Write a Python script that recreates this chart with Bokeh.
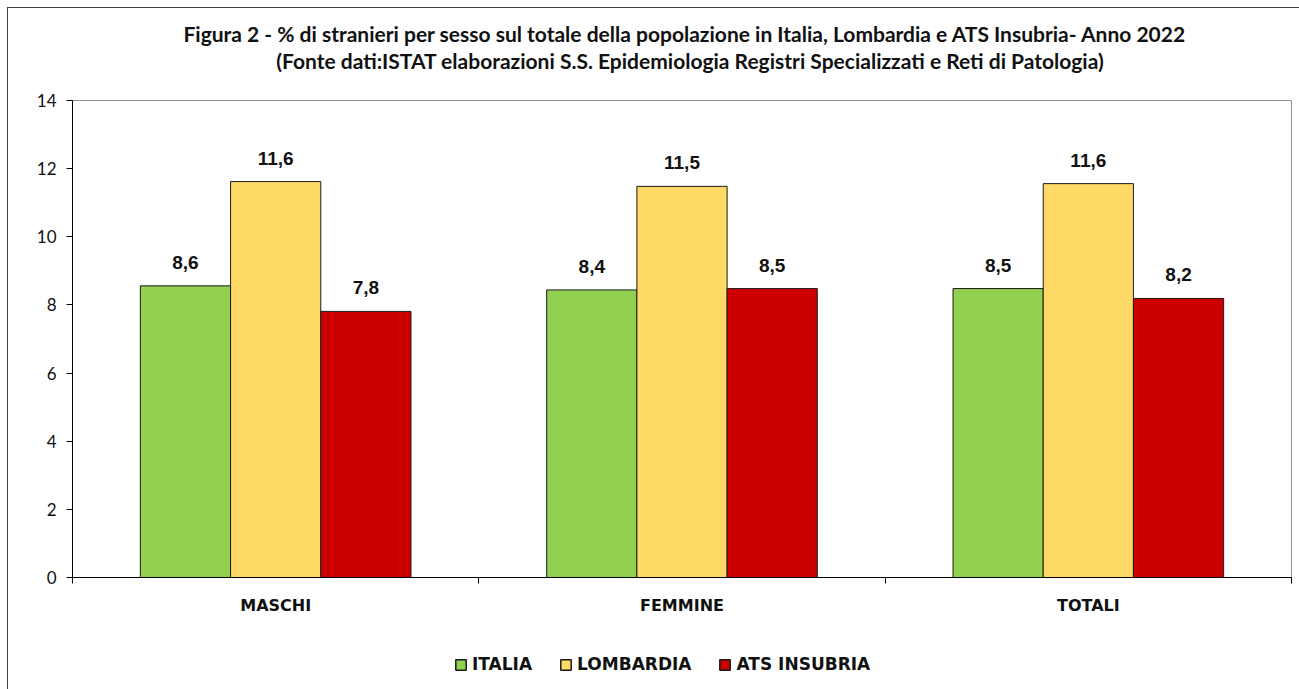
from bokeh.plotting import figure
from bokeh.layouts import column
from bokeh.models import (Range1d, FixedTicker, ColumnDataSource, Legend, LegendItem)
from bokeh.core.properties import value
from bokeh.embed import file_html
from bokeh.resources import INLINE

title_lines = ["Figura 2 - % di stranieri per sesso sul totale della popolazione in Italia, Lombardia  e  ATS  Insubria- Anno 2022",
               "(Fonte dati:ISTAT elaborazioni  S.S. Epidemiologia Registri Specializzati e Reti di Patologia)"]
categories = ["MASCHI", "FEMMINE", "TOTALI"]
series_names = ["ITALIA", "LOMBARDIA", "ATS INSUBRIA"]
italia = [8.56, 8.44, 8.48]
lombardia = [11.62, 11.48, 11.56]
ats_insubria = [7.81, 8.48, 8.19]
y_ticks = [0, 2, 4, 6, 8, 10, 12, 14]

colors = ["#92D050", "#FFD966", "#CC0000"]
offsets = [-0.222, 0.0, 0.222]
bar_w = 0.222
W = 1291
series = [italia, lombardia, ats_insubria]

# ---- title figure (frame = whole canvas, pixel ranges)
tf = figure(width=W, height=80, output_backend="svg", toolbar_location=None,
            x_range=Range1d(0, W), y_range=Range1d(0, 80),
            min_border=0, outline_line_color=None)
tf.axis.visible = False
tf.grid.visible = False
tsrc = ColumnDataSource(dict(x=[657, 657], y=[55, 28], t=title_lines))
tf.text(x="x", y="y", text="t", source=tsrc, text_align="center", text_baseline="middle",
        text_font=value("Lato"), text_font_style="bold", text_font_size="21px",
        text_color="#111111")

# ---- main chart
p = figure(width=W, height=552, output_backend="svg", toolbar_location=None,
           x_range=Range1d(0, 3), y_range=Range1d(0, 14),
           min_border_left=64, min_border_right=8, min_border_top=12, min_border_bottom=63)
p.xgrid.visible = False
p.ygrid.visible = False
p.outline_line_color = "#909090"
p.outline_line_width = 1

for vals, col, off in zip(series, colors, offsets):
    xs = [i + 0.5 + off for i in range(len(categories))]
    labels = [f"{v:.1f}".replace(".", ",") for v in vals]
    src = ColumnDataSource(dict(x=xs, top=vals, lab=labels))
    p.vbar(x="x", top="top", width=bar_w, bottom=0, source=src,
           fill_color=col, line_color="#1a1a1a", line_width=1)
    p.text(x="x", y="top", text="lab", source=src, text_align="center", text_baseline="bottom",
           y_offset=-17, text_font=value("Liberation Sans"), text_font_style="bold",
           text_font_size="19px", text_color="#111111")

p.xaxis.ticker = FixedTicker(ticks=[0.5, 1.5, 2.5], minor_ticks=[0, 1, 2, 3])
p.xaxis.major_label_overrides = {0.5: categories[0], 1.5: categories[1], 2.5: categories[2]}
p.xaxis.major_tick_line_color = None
p.xaxis.minor_tick_line_color = "black"
p.xaxis.minor_tick_out = 6
p.xaxis.minor_tick_in = 0
p.xaxis.axis_line_color = "black"
p.xaxis.major_label_standoff = 12
p.xaxis.major_label_text_font = "DejaVu Sans"
p.xaxis.major_label_text_font_style = "bold"
p.xaxis.major_label_text_font_size = "16px"
p.xaxis.major_label_text_color = "#111111"

p.yaxis.ticker = FixedTicker(ticks=y_ticks, minor_ticks=[])
p.yaxis.axis_line_color = "black"
p.yaxis.major_tick_line_color = "black"
p.yaxis.major_tick_out = 6
p.yaxis.major_tick_in = 0
p.yaxis.minor_tick_line_color = None
p.yaxis.major_label_standoff = 10
p.yaxis.major_label_text_font = "Lato"
p.yaxis.major_label_text_font_size = "17px"
p.yaxis.major_label_text_color = "#111111"

# ---- legend figure (hidden copies of the series supply the legend swatches)
lf = figure(width=W, height=49, output_backend="svg", toolbar_location=None,
            x_range=Range1d(0, 3), y_range=Range1d(0, 14), min_border=0, outline_line_color=None)
lf.axis.visible = False
lf.grid.visible = False
items = []
for name, vals, col, off in zip(series_names, series, colors, offsets):
    xs = [i + 0.5 + off for i in range(len(categories))]
    r = lf.vbar(x=xs, top=vals, width=bar_w, fill_color=col, line_color="#1a1a1a",
                line_width=1.5, visible=False)
    items.append(LegendItem(label=name, renderers=[r]))
legend = Legend(items=items, orientation="horizontal", location=(382, 15),
                glyph_width=13, glyph_height=13, label_standoff=5, spacing=27,
                label_text_font="DejaVu Sans", label_text_font_style="bold",
                label_text_font_size="17px", label_text_color="#111111",
                inactive_fill_alpha=0,
                border_line_color=None, background_fill_alpha=0, margin=0, padding=4)
lf.add_layout(legend, "center")

layout = column(tf, p, lf, spacing=0,
                styles={"border-left": "1px solid #404040", "border-top": "1px solid #404040",
                        "margin-left": "7px", "margin-top": "7px"})

open("out.html", "w").write(file_html(layout, INLINE))
